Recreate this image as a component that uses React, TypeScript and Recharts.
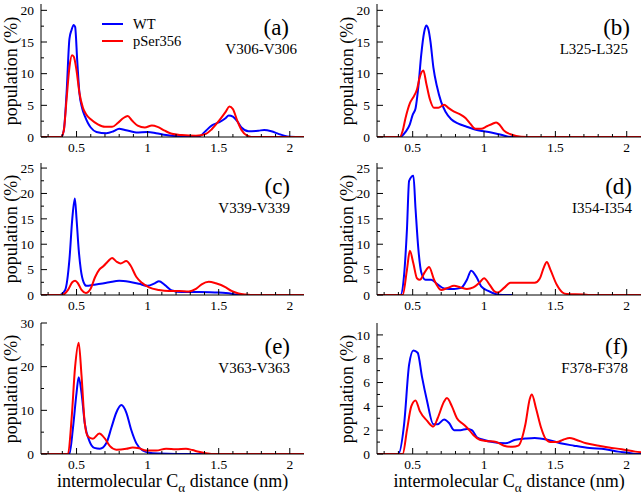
import React from 'react';
import { LineChart, Line, XAxis, YAxis } from 'recharts';

type Pt = [number, number];

// [distance (nm), population (%)]
const wtA: Pt[] = [[0.25,0],[0.39,0],[0.41,1],[0.43,7],[0.45,15.5],[0.465,16.9],[0.48,17.7],[0.49,17.4],[0.505,12],[0.52,7],[0.54,4.5],[0.56,3.2],[0.58,2.2],[0.6,1.5],[0.64,0.8],[0.71,0.6],[0.76,0.9],[0.8,1.3],[0.84,1.1],[0.88,0.9],[0.92,0.7],[1.0,0.8],[1.06,0.6],[1.13,0.3],[1.2,0.15],[1.27,0.05],[1.36,0.1],[1.41,1.0],[1.45,1.8],[1.5,2.3],[1.55,3.0],[1.57,3.4],[1.6,3.2],[1.63,2.5],[1.66,1.5],[1.71,0.9],[1.78,1.0],[1.82,1.1],[1.87,0.9],[1.92,0.5],[1.96,0.2],[2.0,0.05],[2.1,0]];
const psA: Pt[] = [[0.25,0],[0.39,0],[0.41,1],[0.43,6],[0.45,11],[0.468,12.9],[0.48,12.7],[0.5,10.5],[0.52,7],[0.545,4.6],[0.57,3.5],[0.6,2.8],[0.65,2.0],[0.7,1.6],[0.75,1.6],[0.79,2.2],[0.83,3.0],[0.86,3.3],[0.89,2.6],[0.93,1.8],[0.98,1.5],[1.03,1.8],[1.07,1.6],[1.12,1.0],[1.17,0.5],[1.24,0.3],[1.34,0.2],[1.41,0.5],[1.45,1.2],[1.5,2.5],[1.55,4.0],[1.575,4.8],[1.6,4.4],[1.63,2.6],[1.66,1.1],[1.7,0.2],[1.73,0],[2.1,0]];

const wtB: Pt[] = [[0.25,0],[0.41,0],[0.45,0.8],[0.48,2],[0.5,3.5],[0.52,4.5],[0.54,8],[0.56,13],[0.58,16.5],[0.595,17.6],[0.61,17.0],[0.625,15],[0.645,11],[0.67,8],[0.7,5.5],[0.73,4],[0.77,2.8],[0.82,2.1],[0.87,1.7],[0.95,1.1],[1.05,0.7],[1.12,0.35],[1.17,0.05],[1.25,0],[1.65,0]];
const psB: Pt[] = [[0.25,0],[0.41,0],[0.43,1],[0.45,3],[0.48,5.3],[0.51,6.5],[0.53,7.5],[0.55,9.5],[0.575,10.5],[0.595,8.5],[0.62,6],[0.65,4.6],[0.68,4.6],[0.72,5.1],[0.75,4.6],[0.79,4.0],[0.83,3.6],[0.87,3.0],[0.9,2.2],[0.94,1.3],[0.98,1.3],[1.02,1.7],[1.06,2.1],[1.085,2.3],[1.11,1.9],[1.14,1.0],[1.19,0.4],[1.26,0.05],[1.35,0],[2.1,0]];

const wtC: Pt[] = [[0.25,0],[0.38,0],[0.42,1.0],[0.45,7],[0.47,15],[0.488,19],[0.5,15],[0.515,9],[0.53,5],[0.55,2.5],[0.57,1.8],[0.62,2.0],[0.67,2.2],[0.73,2.5],[0.8,2.8],[0.87,2.6],[0.94,2.2],[1.0,1.8],[1.05,2.3],[1.08,2.7],[1.12,2.0],[1.17,0.9],[1.24,0.6],[1.36,0.6],[1.48,0.5],[1.55,0.4],[1.6,0.2],[1.64,0],[1.7,0]];
const psC: Pt[] = [[0.25,0],[0.4,0],[0.44,1.0],[0.47,2.5],[0.49,2.8],[0.51,2.3],[0.535,1.0],[0.565,0.4],[0.6,1.3],[0.63,3.5],[0.66,5.0],[0.69,5.7],[0.72,6.6],[0.75,7.3],[0.78,6.6],[0.81,6.2],[0.85,6.7],[0.88,5.8],[0.92,3.6],[0.96,2.4],[1.01,1.5],[1.08,1.0],[1.15,0.8],[1.22,0.8],[1.29,0.7],[1.34,1.2],[1.38,2.1],[1.43,2.6],[1.48,2.3],[1.55,1.5],[1.59,0.8],[1.64,0.3],[1.69,0.1],[1.76,0],[2.1,0]];

const wtD: Pt[] = [[0.25,0],[0.415,0],[0.44,4],[0.46,13],[0.475,22.5],[0.505,23.5],[0.52,17],[0.54,9],[0.56,4.5],[0.59,3.0],[0.63,3.0],[0.67,2.2],[0.72,1.3],[0.79,1.2],[0.84,1.4],[0.88,3.0],[0.91,4.8],[0.95,3.4],[0.98,1.7],[1.03,0.8],[1.08,0.2],[1.13,0],[1.2,0]];
const psD: Pt[] = [[0.25,0],[0.43,0],[0.46,5],[0.48,8.7],[0.505,6.2],[0.53,3.3],[0.55,3.0],[0.585,4.5],[0.615,5.5],[0.65,3.0],[0.7,1.0],[0.745,1.4],[0.79,1.8],[0.835,1.5],[0.88,1.2],[0.925,1.5],[0.97,2.5],[1.0,3.3],[1.04,2.0],[1.07,0.8],[1.095,0.5],[1.14,1.4],[1.185,2.4],[1.24,2.4],[1.355,2.4],[1.39,3.2],[1.42,5.5],[1.44,6.5],[1.465,5.0],[1.51,2.0],[1.55,0.5],[1.58,0.2],[1.7,0.1],[1.74,0],[2.1,0]];

const wtE: Pt[] = [[0.25,0],[0.45,0],[0.475,6],[0.5,14],[0.515,17.6],[0.535,14],[0.558,7],[0.59,3.0],[0.625,1.4],[0.665,1.2],[0.71,2.5],[0.745,6.0],[0.78,9.5],[0.815,11.2],[0.85,9.5],[0.885,5.5],[0.92,2.5],[0.965,0.8],[1.01,0.3],[1.08,0.1],[1.2,0],[1.4,0]];
const psE: Pt[] = [[0.25,0],[0.44,0],[0.465,8],[0.49,20],[0.515,25.5],[0.535,18],[0.558,7],[0.58,4.0],[0.615,3.5],[0.66,4.7],[0.7,3.5],[0.735,1.8],[0.78,1.0],[0.85,1.2],[0.895,1.5],[0.94,1.3],[0.99,0.8],[1.06,0.8],[1.13,1.2],[1.2,1.1],[1.27,1.2],[1.315,0.9],[1.36,0.5],[1.41,0.2],[1.48,0],[2.1,0]];

const wtF: Pt[] = [[0.25,0],[0.4,0],[0.44,2.5],[0.475,7.5],[0.505,8.7],[0.535,8.5],[0.565,6.5],[0.6,4.5],[0.645,2.5],[0.675,2.5],[0.72,2.9],[0.755,2.6],[0.79,2.0],[0.835,2.0],[0.88,2.1],[0.915,2.0],[0.95,1.4],[0.995,1.2],[1.06,1.0],[1.15,0.9],[1.22,1.2],[1.29,1.3],[1.355,1.35],[1.445,1.2],[1.535,0.9],[1.63,0.7],[1.74,0.5],[1.85,0.4],[1.94,0.2],[2.01,0.1],[2.06,0],[2.1,0]];
const psF: Pt[] = [[0.25,0],[0.43,0],[0.46,2.0],[0.49,4.0],[0.52,4.5],[0.55,3.6],[0.6,2.8],[0.645,2.3],[0.675,3.0],[0.72,4.4],[0.74,4.7],[0.775,4.0],[0.81,3.0],[0.855,2.5],[0.89,2.1],[0.925,1.6],[0.97,1.2],[1.015,1.1],[1.085,1.0],[1.14,0.7],[1.2,0.6],[1.24,0.7],[1.29,2.5],[1.32,4.6],[1.335,5.0],[1.365,3.8],[1.4,2.2],[1.43,1.3],[1.465,1.0],[1.51,1.0],[1.555,1.2],[1.6,1.35],[1.645,1.2],[1.715,0.9],[1.805,0.7],[1.875,0.55],[1.965,0.4],[2.06,0.2],[2.1,0.15]];

const X_TICKS = [0.3,0.4,0.5,0.6,0.7,0.8,0.9,1,1.1,1.2,1.3,1.4,1.5,1.6,1.7,1.8,1.9,2];
const X_MAJOR = [0.5,1,1.5,2];
const Y_TICKS_20 = [0,2.5,5,7.5,10,12.5,15,17.5,20];
const Y_MAJOR_20 = [0,5,10,15,20];
const Y_TICKS_25 = [0,2.5,5,7.5,10,12.5,15,17.5,20,22.5,25];
const Y_MAJOR_25 = [0,5,10,15,20,25];
const Y_TICKS_30 = [0,5,10,15,20,25,30];
const Y_MAJOR_30 = [0,10,20,30];
const Y_TICKS_10 = [0,1,2,3,4,5,6,7,8,9,10];
const Y_MAJOR_10 = [0,2,4,6,8,10];

const FONT = "'Liberation Serif', 'DejaVu Serif', serif";
const BLUE = '#0000ff';
const RED = '#ff0000';
const W = 643;
const PAD = 10; // room above the plot so the top tick label is not clipped

const toRows = (pts: Pt[]) => pts.map(([d, p]) => ({ d, p }));
const isMajor = (list: number[], v: number) => list.some((m) => Math.abs(m - v) < 1e-9);

// ticks point inward on every side, labels only on bottom/left majors
const makeTick = (side: 'bottom' | 'top' | 'left' | 'right', major: number[]) => (props: any) => {
  const { x, y, payload } = props;
  const big = isMajor(major, payload.value);
  const len = big ? 6 : 3;
  if (side === 'bottom') {
    return (
      <g>
        <line x1={x} x2={x} y1={y} y2={y - len} stroke="#000" />
        {big && (
          <text x={x} y={y + 15} textAnchor="middle" fontSize={13.5} style={{ fontFamily: FONT }} fill="#000">
            {payload.value}
          </text>
        )}
      </g>
    );
  }
  if (side === 'top') return <line x1={x} x2={x} y1={y} y2={y + len} stroke="#000" />;
  if (side === 'right') return <line x1={x} x2={x - len} y1={y} y2={y} stroke="#000" />;
  return (
    <g>
      <line x1={x} x2={x + len} y1={y} y2={y} stroke="#000" />
      {big && (
        <text x={x - 7} y={y} dy="0.35em" textAnchor="end" fontSize={13.5} style={{ fontFamily: FONT }} fill="#000">
          {payload.value}
        </text>
      )}
    </g>
  );
};

interface PanelProps {
  px: number;
  py: number;
  pw: number;
  ph: number;
  yMax: number;
  yTicks: number[];
  yMajor: number[];
  wt: Pt[];
  ps: Pt[];
  tag: string;
  name: string;
  tagRight: number;
  nameRight: number;
  xTitle?: boolean;
  legend?: boolean;
}

const frame = { stroke: '#000', strokeWidth: 1 };

function Panel(p: PanelProps) {
  const xDomain: [number, number] = [0.25, 2.1];
  const yDomain: [number, number] = [0, p.yMax];
  return (
    <>
      <div style={{ position: 'absolute', left: p.px - 40, top: p.py - PAD }}>
        <LineChart width={40 + p.pw + 1} height={PAD + p.ph + 22} margin={{ top: PAD, right: 1, bottom: 0, left: 0 }}>
          <XAxis xAxisId="b" type="number" dataKey="d" domain={xDomain} allowDataOverflow ticks={X_TICKS} interval={0}
            tickSize={0} tickMargin={0} height={22} axisLine={frame} tickLine={false} tick={makeTick('bottom', X_MAJOR)} />
          <XAxis xAxisId="t" orientation="top" type="number" dataKey="d" domain={xDomain} allowDataOverflow ticks={X_TICKS} interval={0}
            tickSize={0} tickMargin={0} height={0} axisLine={frame} tickLine={false} tick={makeTick('top', X_MAJOR)} />
          <YAxis yAxisId="l" type="number" domain={yDomain} allowDataOverflow ticks={p.yTicks} interval={0}
            tickSize={0} tickMargin={0} width={40} axisLine={frame} tickLine={false} tick={makeTick('left', p.yMajor)} />
          <YAxis yAxisId="r" orientation="right" type="number" domain={yDomain} allowDataOverflow ticks={p.yTicks} interval={0}
            tickSize={0} tickMargin={0} width={0} axisLine={frame} tickLine={false} tick={makeTick('right', p.yMajor)} />
          <Line data={toRows(p.wt)} dataKey="p" xAxisId="b" yAxisId="l" type="monotone" stroke={BLUE} strokeWidth={2}
            dot={false} activeDot={false} isAnimationActive={false} />
          <Line data={toRows(p.ps)} dataKey="p" xAxisId="b" yAxisId="l" type="monotone" stroke={RED} strokeWidth={2}
            dot={false} activeDot={false} isAnimationActive={false} />
        </LineChart>
      </div>
      <div style={{ position: 'absolute', left: p.px - 30, top: p.py + p.ph / 2, transform: 'translate(-50%, -50%) rotate(-90deg)', fontSize: 18, lineHeight: 1, whiteSpace: 'nowrap' }}>
        population (%)
      </div>
      <div style={{ position: 'absolute', right: W - p.tagRight, top: p.py + 23, transform: 'translateY(-50%)', fontSize: 23, lineHeight: 1 }}>
        {p.tag}
      </div>
      <div style={{ position: 'absolute', right: W - p.nameRight, top: p.py + 45, transform: 'translateY(-50%)', fontSize: 15, lineHeight: 1 }}>
        {p.name}
      </div>
      {p.xTitle && (
        <div style={{ position: 'absolute', left: p.px + p.pw / 2, top: 472, transform: 'translateX(-50%)', fontSize: 18, lineHeight: 1, whiteSpace: 'nowrap' }}>
          intermolecular C<span style={{ fontSize: 13, verticalAlign: '-5px' }}>α</span> distance (nm)
        </div>
      )}
      {p.legend && (
        <>
          <div style={{ position: 'absolute', left: 102, top: 23, width: 21, height: 2, background: BLUE }} />
          <div style={{ position: 'absolute', left: 133, top: 24, transform: 'translateY(-50%)', fontSize: 14.5, lineHeight: 1 }}>WT</div>
          <div style={{ position: 'absolute', left: 102, top: 40, width: 21, height: 2, background: RED }} />
          <div style={{ position: 'absolute', left: 133, top: 41, transform: 'translateY(-50%)', fontSize: 14.5, lineHeight: 1 }}>pSer356</div>
        </>
      )}
    </>
  );
}

export default function App() {
  return (
    <div style={{ position: 'absolute', left: 0, top: 0, width: W, height: 495, background: '#fff', fontFamily: FONT, color: '#000' }}>
      <Panel px={41} py={4} pw={263} ph={133} yMax={21} yTicks={Y_TICKS_20} yMajor={Y_MAJOR_20} wt={wtA} ps={psA}
        tag="(a)" name="V306-V306" tagRight={289} nameRight={297} legend />
      <Panel px={377} py={4} pw={264} ph={133} yMax={21} yTicks={Y_TICKS_20} yMajor={Y_MAJOR_20} wt={wtB} ps={psB}
        tag="(b)" name="L325-L325" tagRight={630} nameRight={628} />
      <Panel px={41} py={163} pw={263} ph={132} yMax={26} yTicks={Y_TICKS_25} yMajor={Y_MAJOR_25} wt={wtC} ps={psC}
        tag="(c)" name="V339-V339" tagRight={290} nameRight={290} />
      <Panel px={377} py={163} pw={264} ph={132} yMax={26} yTicks={Y_TICKS_25} yMajor={Y_MAJOR_25} wt={wtD} ps={psD}
        tag="(d)" name="I354-I354" tagRight={632} nameRight={632} />
      <Panel px={41} py={323} pw={263} ph={131} yMax={30} yTicks={Y_TICKS_30} yMajor={Y_MAJOR_30} wt={wtE} ps={psE}
        tag="(e)" name="V363-V363" tagRight={290} nameRight={290} xTitle />
      <Panel px={377} py={323} pw={264} ph={131} yMax={11} yTicks={Y_TICKS_10} yMajor={Y_MAJOR_10} wt={wtF} ps={psF}
        tag="(f)" name="F378-F378" tagRight={628} nameRight={628} xTitle />
    </div>
  );
}
